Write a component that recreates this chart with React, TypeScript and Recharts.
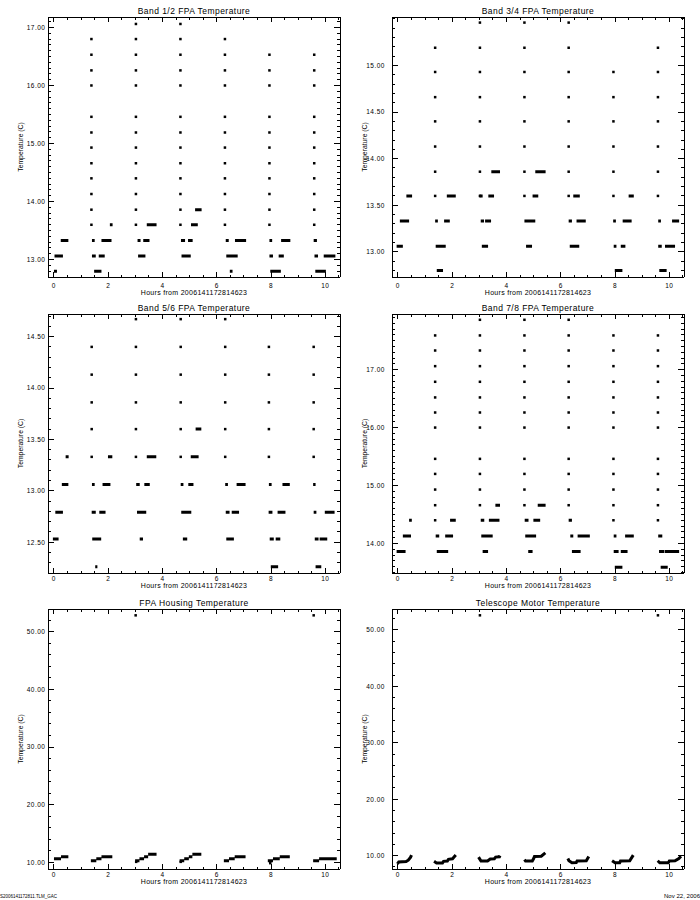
import React from 'react';
import { ComposedChart, Line, Scatter, XAxis, YAxis } from 'recharts';

type Run = [number, number, number]; // [start hour, end hour, temperature]
type Pt = [number, number]; // [hour, temperature]

const FONT = '"Liberation Sans", Arial, sans-serif';

// ---------- shared axis values ----------
const hourTicks = [0, 2, 4, 6, 8, 10];
const hourDomain: [number, number] = [-0.22, 10.54];
const xTitle = 'Hours from 2006141172814623';
const yTitle = 'Temperature (C)';

// ---------- Band 1/2 ----------
const band12Ticks = [13, 14, 15, 16, 17];
const band12Runs: Run[] = [
  [0.0, 0.11, 12.8], [1.48, 1.75, 12.8], [6.48, 6.58, 12.8], [7.97, 8.36, 12.8], [9.63, 10.02, 12.8],
  [0.02, 0.33, 13.06], [1.4, 1.54, 13.06], [1.65, 1.87, 13.06], [3.1, 3.37, 13.06], [4.7, 5.04, 13.06],
  [6.35, 6.77, 13.06], [7.94, 8.07, 13.06], [8.28, 8.47, 13.06], [9.6, 9.73, 13.06], [9.94, 10.37, 13.06],
  [0.25, 0.53, 13.33], [1.4, 1.5, 13.33], [1.75, 2.12, 13.33], [3.08, 3.19, 13.33], [3.29, 3.52, 13.33],
  [4.68, 4.83, 13.33], [4.94, 5.11, 13.33], [6.33, 6.44, 13.33], [6.67, 7.08, 13.33], [7.94, 8.04, 13.33],
  [8.37, 8.71, 13.33], [9.57, 9.69, 13.33],
  [2.06, 2.16, 13.6], [3.42, 3.78, 13.6], [5.05, 5.3, 13.6],
  [5.2, 5.44, 13.86],
];
const band12SpikeHours = [1.38, 3.02, 4.66, 6.3, 7.94, 9.59];
const band12SpikeTemps = [
  [13.6, 13.86, 14.13, 14.4, 14.66, 14.93, 15.19, 15.46, 16.0, 16.26, 16.53, 16.8],
  [13.6, 13.86, 14.13, 14.4, 14.66, 14.93, 15.19, 15.46, 16.0, 16.26, 16.53, 16.8, 17.06],
  [13.6, 13.86, 14.13, 14.4, 14.66, 14.93, 15.19, 15.46, 16.0, 16.26, 16.53, 16.8, 17.06],
  [13.6, 13.86, 14.13, 14.4, 14.66, 14.93, 15.19, 15.46, 16.0, 16.26, 16.53, 16.8],
  [13.6, 13.86, 14.13, 14.4, 14.66, 14.93, 15.19, 15.46, 16.0, 16.26, 16.53],
  [13.6, 13.86, 14.13, 14.4, 14.66, 14.93, 15.19, 15.46, 16.0, 16.26, 16.53],
];

// ---------- Band 3/4 ----------
const band34Ticks = [13, 13.5, 14, 14.5, 15];
const band34Runs: Run[] = [
  [1.43, 1.66, 12.8], [7.99, 8.27, 12.8], [9.63, 9.9, 12.8],
  [-0.05, 0.18, 13.06], [1.39, 1.76, 13.06], [3.09, 3.32, 13.06], [4.72, 4.94, 13.06], [6.33, 6.68, 13.06],
  [7.95, 8.05, 13.06], [8.21, 8.38, 13.06], [9.59, 9.72, 13.06], [9.84, 10.21, 13.06],
  [0.07, 0.41, 13.33], [1.37, 1.47, 13.33], [1.7, 1.91, 13.33], [3.05, 3.17, 13.33], [3.21, 3.43, 13.33],
  [4.66, 5.06, 13.33], [6.29, 6.41, 13.33], [6.58, 6.92, 13.33], [7.93, 8.03, 13.33], [8.28, 8.61, 13.33],
  [9.59, 9.69, 13.33], [10.1, 10.36, 13.33],
  [0.31, 0.52, 13.6], [1.8, 2.13, 13.6], [3.0, 3.12, 13.6], [3.33, 3.54, 13.6], [4.96, 5.17, 13.6],
  [6.46, 6.7, 13.6], [8.5, 8.69, 13.6],
  [3.44, 3.76, 13.86], [5.06, 5.44, 13.86],
];
const band34SpikeHours = [1.37, 3.02, 4.66, 6.29, 7.94, 9.58];
const band34SpikeTemps = [
  [13.6, 13.86, 14.13, 14.4, 14.66, 14.93, 15.19],
  [13.6, 13.86, 14.13, 14.4, 14.66, 14.93, 15.19, 15.46],
  [13.6, 13.86, 14.13, 14.4, 14.66, 14.93, 15.19, 15.46],
  [13.6, 13.86, 14.13, 14.4, 14.66, 14.93, 15.19, 15.46],
  [13.6, 13.86, 14.13, 14.4, 14.66, 14.93],
  [13.6, 13.86, 14.13, 14.4, 14.66, 14.93, 15.19],
];

// ---------- Band 5/6 ----------
const band56Ticks = [12.5, 13, 13.5, 14, 14.5];
const band56Runs: Run[] = [
  [1.52, 1.6, 12.26], [7.99, 8.26, 12.26], [9.64, 9.85, 12.26],
  [-0.04, 0.17, 12.53], [1.41, 1.74, 12.53], [3.16, 3.28, 12.53], [4.75, 4.91, 12.53], [6.35, 6.63, 12.53],
  [7.95, 8.1, 12.53], [8.17, 8.34, 12.53], [9.61, 9.75, 12.53], [9.79, 10.07, 12.53],
  [0.05, 0.33, 12.79], [1.39, 1.54, 12.79], [1.67, 1.9, 12.79], [3.06, 3.4, 12.79], [4.69, 5.06, 12.79],
  [6.33, 6.47, 12.79], [6.55, 6.82, 12.79], [7.91, 8.05, 12.79], [8.24, 8.53, 12.79], [9.57, 9.67, 12.79],
  [9.98, 10.34, 12.79],
  [0.29, 0.53, 13.06], [1.4, 1.5, 13.06], [1.79, 2.08, 13.06], [3.03, 3.16, 13.06], [3.33, 3.53, 13.06],
  [4.67, 4.77, 13.06], [4.95, 5.14, 13.06], [6.31, 6.41, 13.06], [6.73, 7.06, 13.06], [7.92, 8.02, 13.06],
  [8.42, 8.69, 13.06], [9.55, 9.64, 13.06],
  [0.43, 0.54, 13.33], [1.99, 2.15, 13.33], [3.42, 3.77, 13.33], [5.04, 5.33, 13.33],
  [5.22, 5.43, 13.6],
];
const band56SpikeHours = [1.39, 3.02, 4.67, 6.31, 7.92, 9.57];
const band56SpikeTemps = [
  [13.33, 13.6, 13.86, 14.13, 14.4],
  [13.33, 13.6, 13.86, 14.13, 14.4, 14.67],
  [13.33, 13.6, 13.86, 14.13, 14.4, 14.67],
  [13.33, 13.6, 13.86, 14.13, 14.4, 14.67],
  [13.33, 13.6, 13.86, 14.13, 14.4],
  [13.33, 13.6, 13.86, 14.13, 14.4],
];

// ---------- Band 7/8 ----------
const band78Ticks = [14, 15, 16, 17];
const band78Runs: Run[] = [
  [7.99, 8.27, 13.59], [9.68, 9.94, 13.59],
  [-0.05, 0.28, 13.86], [1.43, 1.85, 13.86], [3.12, 3.32, 13.86], [4.8, 4.96, 13.86], [6.41, 6.73, 13.86],
  [7.95, 8.13, 13.86], [8.21, 8.46, 13.86], [9.62, 9.82, 13.86], [9.84, 10.36, 13.86],
  [0.18, 0.48, 14.13], [1.39, 1.52, 14.13], [1.74, 2.03, 14.13], [3.07, 3.49, 14.13], [4.69, 5.09, 14.13],
  [6.35, 6.46, 14.13], [6.62, 7.07, 14.13], [7.95, 8.05, 14.13], [8.37, 8.69, 14.13], [9.59, 9.74, 14.13],
  [0.41, 0.51, 14.4], [1.92, 2.13, 14.4], [3.05, 3.18, 14.4], [3.35, 3.74, 14.4], [4.67, 4.81, 14.4],
  [4.99, 5.24, 14.4], [6.29, 6.41, 14.4],
  [3.59, 3.76, 14.66], [5.15, 5.44, 14.66],
];
const band78SpikeHours = [1.37, 3.02, 4.66, 6.29, 7.94, 9.58];
const band78SpikeTemps = [
  [14.4, 14.66, 14.93, 15.2, 15.46, 16.0, 16.26, 16.52, 16.79, 17.06, 17.33, 17.59],
  [14.66, 14.93, 15.2, 15.46, 16.0, 16.26, 16.52, 16.79, 17.06, 17.33, 17.59, 17.86],
  [14.66, 14.93, 15.2, 15.46, 16.0, 16.26, 16.52, 16.79, 17.06, 17.33, 17.59, 17.86],
  [14.66, 14.93, 15.2, 15.46, 16.0, 16.26, 16.52, 16.79, 17.06, 17.33, 17.59, 17.86],
  [14.4, 14.66, 14.93, 15.2, 15.46, 16.0, 16.26, 16.52, 16.79, 17.06, 17.33, 17.59],
  [14.4, 14.66, 14.93, 15.2, 15.46, 16.0, 16.26, 16.52, 16.79, 17.06, 17.33, 17.59],
];

// ---------- FPA Housing ----------
const tempTicks = [10, 20, 30, 40, 50];
const housingTraces: Pt[][] = [
  [[0.0, 10.63], [0.26, 10.63]], [[0.26, 10.97], [0.53, 10.97]],
  [[1.36, 10.29], [1.56, 10.29]], [[1.56, 10.63], [1.75, 10.63]], [[1.75, 10.97], [2.15, 10.97]],
  [[2.99, 10.29], [3.15, 10.29]], [[3.15, 10.63], [3.32, 10.63]], [[3.32, 10.97], [3.47, 10.97]], [[3.47, 11.38], [3.78, 11.38]],
  [[4.63, 10.29], [4.8, 10.29]], [[4.8, 10.63], [4.97, 10.63]], [[4.97, 10.97], [5.1, 10.97]], [[5.1, 11.38], [5.43, 11.38]],
  [[6.26, 10.29], [6.45, 10.29]], [[6.45, 10.63], [6.66, 10.63]], [[6.66, 10.97], [7.06, 10.97]],
  [[7.88, 10.29], [8.07, 10.29]], [[8.07, 10.63], [8.32, 10.63]], [[8.32, 10.97], [8.69, 10.97]],
  [[9.55, 10.29], [9.77, 10.29]], [[9.77, 10.63], [10.42, 10.63]],
];
const housingDots: Pt[] = [[3.01, 52.84], [9.57, 52.84], [3.03, 10.08], [4.67, 10.08], [7.97, 9.85]];

// ---------- Telescope Motor ----------
const motorTraces: Pt[][] = [
  [[-0.02, 8.55], [0.03, 8.9], [0.3, 8.95], [0.38, 9.2], [0.46, 9.7], [0.5, 10.1]],
  [[1.33, 9.0], [1.42, 8.72], [1.64, 8.72], [1.68, 9.0], [1.82, 9.05], [1.86, 9.35], [2.01, 9.45], [2.13, 10.1]],
  [[2.97, 9.75], [3.06, 9.05], [3.3, 9.05], [3.4, 9.4], [3.55, 9.45], [3.6, 9.75], [3.74, 9.8], [3.76, 10.0]],
  [[4.66, 9.3], [4.7, 9.05], [4.95, 9.05], [5.0, 9.5], [5.03, 9.85], [5.28, 9.9], [5.43, 10.5]],
  [[6.26, 9.5], [6.3, 9.1], [6.41, 8.75], [6.57, 8.8], [6.6, 9.05], [6.94, 9.1], [7.03, 9.85]],
  [[7.89, 9.1], [8.0, 8.75], [8.17, 8.75], [8.2, 9.05], [8.54, 9.1], [8.67, 10.1]],
  [[9.57, 9.1], [9.65, 8.75], [9.96, 8.75], [10.0, 9.05], [10.21, 9.1], [10.35, 9.5], [10.43, 9.9]],
];
const motorDots: Pt[] = [[3.02, 52.6], [9.58, 52.6]];

// ---------- helpers ----------
type Datum = { x: number; y: number | null };

function runsToLine(runs: Run[]): Datum[] {
  const out: Datum[] = [];
  runs.forEach(([a, b, t]) => {
    out.push({ x: a, y: t }, { x: b, y: t }, { x: b, y: null });
  });
  return out;
}
function tracesToLine(traces: Pt[][]): Datum[] {
  const out: Datum[] = [];
  traces.forEach((tr) => {
    tr.forEach(([h, t]) => out.push({ x: h, y: t }));
    out.push({ x: tr[tr.length - 1][0], y: null });
  });
  return out;
}
function columnsToDots(hours: number[], temps: number[][]) {
  const out: { x: number; y: number }[] = [];
  hours.forEach((h, i) => temps[i].forEach((t) => out.push({ x: h, y: t })));
  return out;
}
function ptsToDots(pts: Pt[]) {
  return pts.map(([h, t]) => ({ x: h, y: t }));
}
function minorTicks(lo: number, hi: number, step: number) {
  const out: number[] = [];
  for (let k = Math.ceil(lo / step - 1e-9); k * step <= hi + 1e-9; k++) out.push(+(k * step).toFixed(6));
  return out;
}
const isMajor = (v: number, majors: number[]) => majors.some((m) => Math.abs(m - v) < 1e-6);

interface Box { l: number; r: number; t: number; b: number }
interface PanelProps {
  title: string;
  box: Box;
  cLeft: number;
  cTop: number;
  cW: number;
  cH: number;
  yDomain: [number, number];
  yTicks: number[];
  yMinor: number;
  lineData: Datum[];
  dots: { x: number; y: number }[];
  yGap: number;
  xLabelDy: number;
}

const square = (p: any) =>
  p.cx == null ? <g /> : <rect x={p.cx - 1.25} y={p.cy - 1.25} width={2.5} height={2.5} fill="#000" />;

const AX = 1; // thickness reserved by each axis

function Panel(props: PanelProps) {
  const { box, cLeft, cTop, cW, cH, yDomain, yTicks, yMinor, lineData, dots, yGap, xLabelDy } = props;
  const margin = {
    top: box.t - cTop - AX,
    bottom: cTop + cH - box.b - AX,
    left: box.l - cLeft - AX,
    right: cLeft + cW - box.r - AX,
  };
  const xAll = minorTicks(hourDomain[0], hourDomain[1], 0.5);
  const yAll = minorTicks(yDomain[0], yDomain[1], yMinor);

  const bottomTick = (p: any) => {
    const major = isMajor(p.payload.value, hourTicks);
    return (
      <g>
        <line x1={p.x} x2={p.x} y1={p.y} y2={p.y - (major ? 5 : 2.5)} stroke="#000" shapeRendering="crispEdges" />
        {major && (
          <text x={p.x} y={p.y + xLabelDy} textAnchor="middle" fontSize={6.5} fontFamily={FONT} letterSpacing={0.6} fill="#000">
            {p.payload.value}
          </text>
        )}
      </g>
    );
  };
  const topTick = (p: any) => {
    const major = isMajor(p.payload.value, hourTicks);
    return <line x1={p.x} x2={p.x} y1={p.y} y2={p.y + (major ? 5 : 2.5)} stroke="#000" shapeRendering="crispEdges" />;
  };
  const leftTick = (p: any) => {
    const major = isMajor(p.payload.value, yTicks);
    return (
      <g>
        <line x1={p.x} x2={p.x + (major ? 6 : 3)} y1={p.y} y2={p.y} stroke="#000" shapeRendering="crispEdges" />
        {major && (
          <text x={p.x - yGap} y={p.y + 2.4} textAnchor="end" fontSize={6.5} fontFamily={FONT} letterSpacing={0.5} fill="#000">
            {Number(p.payload.value).toFixed(2)}
          </text>
        )}
      </g>
    );
  };
  const rightTick = (p: any) => {
    const major = isMajor(p.payload.value, yTicks);
    return <line x1={p.x} x2={p.x - (major ? 6 : 3)} y1={p.y} y2={p.y} stroke="#000" shapeRendering="crispEdges" />;
  };
  const axisLine = { stroke: '#000', strokeWidth: 1, shapeRendering: 'crispEdges' } as any;

  return (
    <div style={{ position: 'absolute', left: cLeft, top: cTop, width: cW, height: cH }}>
      <ComposedChart width={cW} height={cH} margin={margin}>
        <XAxis xAxisId="b" dataKey="x" type="number" orientation="bottom" domain={hourDomain} allowDataOverflow
          ticks={xAll} interval={0} tick={bottomTick} tickLine={false} tickSize={0} tickMargin={0} height={AX} axisLine={axisLine} />
        <XAxis xAxisId="t" dataKey="x" type="number" orientation="top" domain={hourDomain} allowDataOverflow
          ticks={xAll} interval={0} tick={topTick} tickLine={false} tickSize={0} tickMargin={0} height={AX} axisLine={axisLine} />
        <YAxis yAxisId="l" dataKey="y" type="number" orientation="left" domain={yDomain} allowDataOverflow
          ticks={yAll} interval={0} tick={leftTick} tickLine={false} tickSize={0} tickMargin={0} width={AX} axisLine={axisLine} />
        <YAxis yAxisId="r" dataKey="y" type="number" orientation="right" domain={yDomain} allowDataOverflow
          ticks={yAll} interval={0} tick={rightTick} tickLine={false} tickSize={0} tickMargin={0} width={AX} axisLine={axisLine} />
        <Line xAxisId="b" yAxisId="l" data={lineData} dataKey="y" stroke="#000" strokeWidth={3} strokeLinecap="butt"
          dot={false} activeDot={false} connectNulls={false} isAnimationActive={false} legendType="none" type="linear" />
        <Scatter xAxisId="b" yAxisId="l" data={dots} dataKey="y" shape={square} isAnimationActive={false} legendType="none" />
      </ComposedChart>
    </div>
  );
}

const boxes: Box[] = [
  { l: 48, r: 340, t: 17, b: 277 },
  { l: 392, r: 684, t: 17, b: 277 },
  { l: 48, r: 340, t: 314, b: 573 },
  { l: 392, r: 684, t: 314, b: 573 },
  { l: 48, r: 340, t: 609, b: 869 },
  { l: 392, r: 684, t: 609, b: 869 },
];
const titles = [
  'Band 1/2 FPA Temperature',
  'Band 3/4 FPA Temperature',
  'Band 5/6 FPA Temperature',
  'Band 7/8 FPA Temperature',
  'FPA Housing Temperature',
  'Telescope Motor Temperature',
];
const rowTop = [0, 300, 595];
const rowH = [300, 295, 305];
const xTickDy = [11, 8.4, 8.4];
const xTitleDy = [18.4, 15.4, 15.4];

export default function App() {
  const panels = [
    { yDomain: [12.7, 17.18] as [number, number], yTicks: band12Ticks, yMinor: 0.1, lineData: runsToLine(band12Runs), dots: columnsToDots(band12SpikeHours, band12SpikeTemps) },
    { yDomain: [12.73, 15.52] as [number, number], yTicks: band34Ticks, yMinor: 0.1, lineData: runsToLine(band34Runs), dots: columnsToDots(band34SpikeHours, band34SpikeTemps) },
    { yDomain: [12.2, 14.72] as [number, number], yTicks: band56Ticks, yMinor: 0.1, lineData: runsToLine(band56Runs), dots: columnsToDots(band56SpikeHours, band56SpikeTemps) },
    { yDomain: [13.49, 17.96] as [number, number], yTicks: band78Ticks, yMinor: 0.1, lineData: runsToLine(band78Runs), dots: columnsToDots(band78SpikeHours, band78SpikeTemps) },
    { yDomain: [8.84, 53.94] as [number, number], yTicks: tempTicks, yMinor: 2, lineData: tracesToLine(housingTraces), dots: ptsToDots(housingDots) },
    { yDomain: [7.64, 53.72] as [number, number], yTicks: tempTicks, yMinor: 2, lineData: tracesToLine(motorTraces), dots: ptsToDots(motorDots) },
  ];

  return (
    <div style={{ position: 'absolute', left: 0, top: 0, width: 700, height: 900, background: '#fff', overflow: 'hidden' }}>
      {panels.map((p, i) => {
        const row = Math.floor(i / 2);
        const col = i % 2;
        return (
          <Panel key={i} title={titles[i]} box={boxes[i]} cLeft={col * 350} cTop={rowTop[row]} cW={350} cH={rowH[row]}
            yDomain={p.yDomain} yTicks={p.yTicks} yMinor={p.yMinor} lineData={p.lineData} dots={p.dots}
            yGap={col === 0 ? 2.5 : 7} xLabelDy={xTickDy[row]} />
        );
      })}
      <svg width={700} height={900} style={{ position: 'absolute', left: 0, top: 0, pointerEvents: 'none' }}>
        {boxes.map((b, i) => {
          const row = Math.floor(i / 2);
          const col = i % 2;
          const cx = (b.l + b.r) / 2;
          const cy = (b.t + b.b) / 2;
          const ytx = col === 0 ? 22.8 : 366.5;
          return (
            <g key={i} fontFamily={FONT} fill="#000">
              <text x={cx} y={b.t - 3.3} textAnchor="middle" fontSize={8.5} letterSpacing={0.45}>{titles[i]}</text>
              <text x={cx} y={b.b + xTitleDy[row]} textAnchor="middle" fontSize={7} letterSpacing={0.3}>{xTitle}</text>
              <text x={ytx} y={cy} textAnchor="middle" fontSize={6.8} transform={`rotate(-90, ${ytx}, ${cy})`}>{yTitle}</text>
            </g>
          );
        })}
        <text x={0} y={898} fontSize={5} fontFamily={FONT} textLength={57} lengthAdjust="spacingAndGlyphs">S2006141172811.TLM_GAC</text>
        <text x={664} y={898} fontSize={5.5} fontFamily={FONT} textLength={36} lengthAdjust="spacingAndGlyphs">Nov 22, 2006</text>
      </svg>
    </div>
  );
}
